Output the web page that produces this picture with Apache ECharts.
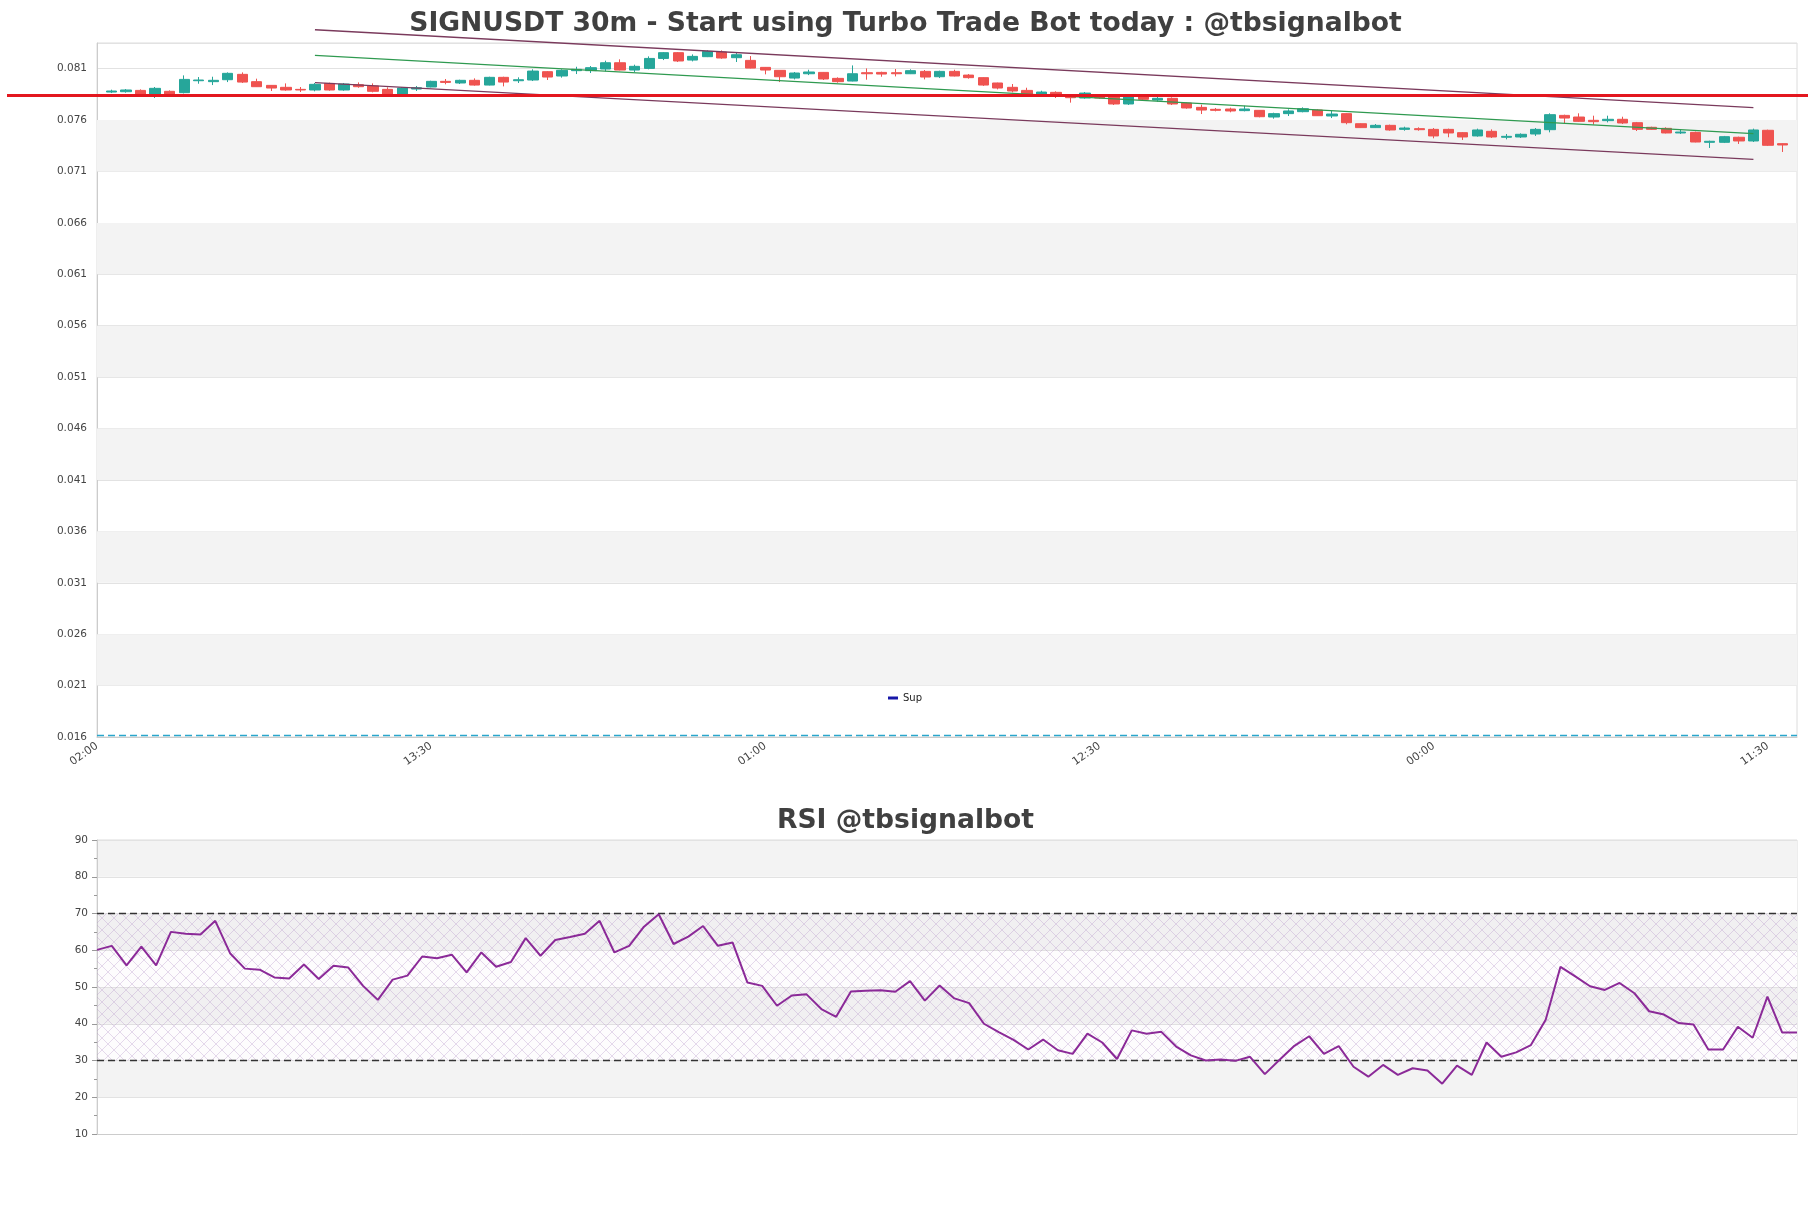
<!DOCTYPE html>
<html><head><meta charset="utf-8">
<script src="https://cdn.jsdelivr.net/npm/echarts@6/dist/echarts.min.js"></script>
<style>html,body{margin:0;padding:0;background:#fff}#c{width:1811px;height:1208px}</style>
</head><body><div id="c"></div>
<script>
// ---- data ----
const startTime = '02:00';
const stepMinutes = 30;
const categoryCount = 118;           // candles occupy categories 1..116
const firstCandleIndex = 1;

const opens = [0.07873,0.07876,0.07889,0.07841,0.07880,0.07867,0.07983,0.07974,0.07993,0.08045,
0.07974,0.07938,0.07919,0.07899,0.07893,0.07957,0.07893,0.07944,0.07932,0.07899,
0.07854,0.07902,0.07922,0.07977,0.07961,0.07987,0.07941,0.08016,0.07983,0.07990,
0.08071,0.08029,0.08081,0.08081,0.08097,0.08158,0.08087,0.08103,0.08200,0.08256,
0.08184,0.08217,0.08262,0.08207,0.08181,0.08113,0.08084,0.08009,0.08051,0.08064,
0.08006,0.07980,0.08061,0.08064,0.08061,0.08051,0.08074,0.08022,0.08074,0.08038,
0.08013,0.07961,0.07919,0.07889,0.07847,0.07870,0.07847,0.07815,0.07841,0.07828,
0.07757,0.07841,0.07795,0.07812,0.07766,0.07724,0.07705,0.07708,0.07692,0.07695,
0.07630,0.07663,0.07682,0.07698,0.07640,0.07663,0.07565,0.07527,0.07549,0.07510,
0.07517,0.07510,0.07510,0.07478,0.07446,0.07491,0.07433,0.07436,0.07465,0.07507,
0.07646,0.07630,0.07598,0.07595,0.07608,0.07575,0.07530,0.07520,0.07475,0.07481,
0.07384,0.07384,0.07433,0.07397,0.07501,0.07371];
const closes = [0.07883,0.07893,0.07841,0.07909,0.07847,0.07996,0.07990,0.07987,0.08055,0.07970,
0.07925,0.07912,0.07893,0.07893,0.07948,0.07893,0.07951,0.07925,0.07880,0.07841,
0.07912,0.07915,0.07977,0.07967,0.07987,0.07941,0.08016,0.07970,0.07993,0.08077,
0.08019,0.08084,0.08094,0.08110,0.08158,0.08087,0.08123,0.08200,0.08256,0.08175,
0.08220,0.08268,0.08204,0.08236,0.08106,0.08087,0.08022,0.08058,0.08068,0.08000,
0.07974,0.08051,0.08051,0.08048,0.08051,0.08081,0.08019,0.08074,0.08029,0.08013,
0.07941,0.07912,0.07883,0.07844,0.07873,0.07834,0.07818,0.07863,0.07815,0.07757,
0.07828,0.07802,0.07812,0.07757,0.07718,0.07698,0.07695,0.07689,0.07708,0.07633,
0.07663,0.07689,0.07711,0.07643,0.07659,0.07575,0.07527,0.07549,0.07504,0.07523,
0.07507,0.07446,0.07475,0.07436,0.07504,0.07436,0.07442,0.07462,0.07510,0.07653,
0.07620,0.07588,0.07585,0.07608,0.07572,0.07510,0.07510,0.07475,0.07484,0.07387,
0.07394,0.07439,0.07397,0.07504,0.07355,0.07358];
const lows = [0.07863,0.07867,0.07841,0.07815,0.07841,0.07860,0.07954,0.07941,0.07970,0.07961,
0.07922,0.07883,0.07886,0.07873,0.07880,0.07886,0.07886,0.07915,0.07870,0.07834,
0.07828,0.07883,0.07919,0.07948,0.07951,0.07935,0.07938,0.07928,0.07961,0.07980,
0.07990,0.08013,0.08048,0.08058,0.08074,0.08084,0.08068,0.08094,0.08184,0.08165,
0.08171,0.08213,0.08197,0.08165,0.08103,0.08045,0.07970,0.07996,0.08038,0.07990,
0.07964,0.07977,0.07993,0.08022,0.08025,0.08048,0.07996,0.08009,0.08025,0.08003,
0.07932,0.07899,0.07870,0.07834,0.07844,0.07815,0.07770,0.07808,0.07808,0.07747,
0.07747,0.07789,0.07779,0.07747,0.07711,0.07659,0.07685,0.07676,0.07685,0.07627,
0.07614,0.07640,0.07676,0.07640,0.07620,0.07559,0.07523,0.07523,0.07497,0.07497,
0.07497,0.07423,0.07433,0.07407,0.07439,0.07426,0.07413,0.07426,0.07446,0.07481,
0.07569,0.07582,0.07556,0.07578,0.07562,0.07494,0.07504,0.07471,0.07465,0.07384,
0.07329,0.07377,0.07368,0.07387,0.07348,0.07290];
const highs = [0.07896,0.07902,0.07899,0.07922,0.07889,0.08035,0.08019,0.08022,0.08064,0.08064,
0.08003,0.07941,0.07957,0.07922,0.07961,0.07964,0.07961,0.07967,0.07957,0.07919,
0.07922,0.07932,0.07983,0.08000,0.07993,0.08006,0.08022,0.08022,0.08016,0.08094,
0.08077,0.08094,0.08119,0.08126,0.08178,0.08191,0.08139,0.08220,0.08262,0.08262,
0.08239,0.08278,0.08278,0.08256,0.08223,0.08116,0.08084,0.08068,0.08090,0.08068,
0.08016,0.08132,0.08103,0.08071,0.08097,0.08094,0.08087,0.08081,0.08090,0.08048,
0.08016,0.07964,0.07951,0.07915,0.07886,0.07880,0.07851,0.07873,0.07847,0.07834,
0.07841,0.07847,0.07831,0.07821,0.07770,0.07750,0.07718,0.07721,0.07740,0.07698,
0.07672,0.07705,0.07724,0.07705,0.07689,0.07669,0.07569,0.07562,0.07556,0.07536,
0.07530,0.07523,0.07517,0.07484,0.07517,0.07510,0.07465,0.07471,0.07523,0.07666,
0.07653,0.07666,0.07643,0.07643,0.07633,0.07582,0.07536,0.07530,0.07510,0.07488,
0.07400,0.07446,0.07439,0.07517,0.07507,0.07374];

const rsiValues = [60.1,61.2,55.9,61.0,55.9,65.0,64.5,64.3,68.0,59.2,
55.0,54.7,52.6,52.3,56.1,52.2,55.8,55.3,50.3,46.5,
52.0,53.1,58.3,57.8,58.8,54.0,59.4,55.5,56.8,63.3,
58.5,62.8,63.6,64.5,68.0,59.4,61.2,66.4,69.8,61.7,
63.7,66.6,61.2,62.1,51.2,50.3,44.9,47.7,48.0,44.0,
41.9,48.8,49.0,49.1,48.7,51.6,46.3,50.4,46.9,45.6,
40.0,37.7,35.6,33.0,35.7,32.8,31.8,37.3,34.9,30.4,
38.2,37.3,37.8,33.8,31.4,30.0,30.3,29.9,31.0,26.3,
30.2,34.0,36.6,31.8,33.9,28.3,25.6,28.8,26.1,27.9,
27.3,23.7,28.6,26.1,34.9,31.0,32.2,34.2,41.1,55.5,
52.9,50.2,49.2,51.1,48.3,43.4,42.5,40.2,39.8,33.0,
33.0,39.2,36.2,47.4,37.6,37.6];

const trendUpper = [[15, 0.08479], [114, 0.07721]];
const trendMid   = [[15, 0.08230], [114, 0.07468]];
const trendLower = [[15, 0.07964], [114, 0.07219]];
const redLevel = 0.0784;
const supLevel = 0.01615;
const rsiBands = [30, 70];
const yMin = 0.016, yMax = 0.0835, yStep = 0.005;
const shadedBandStarts = [0.021, 0.031, 0.041, 0.051, 0.061, 0.071];  // alternate grey stripes

// ---- build ----
function buildCategories() {
  const [h, m] = startTime.split(':').map(Number);
  const out = [];
  for (let i = 0; i < categoryCount; i++) {
    const t = (h * 60 + m + i * stepMinutes) % 1440;
    out.push(String(Math.floor(t / 60)).padStart(2, '0') + ':' + String(t % 60).padStart(2, '0'));
  }
  return out;
}
const categories = buildCategories();
const candleRows = opens.map((o, i) => [i + firstCandleIndex, o, closes[i], lows[i], highs[i]]);
const rsiCategories = categories.slice(firstCandleIndex, firstCandleIndex + rsiValues.length);

function hatch() {
  const s = 12;
  const c = document.createElement('canvas');
  c.width = s; c.height = s;
  const g = c.getContext('2d');
  g.fillStyle = 'rgba(210,190,220,0.05)';
  g.fillRect(0, 0, s, s);
  g.strokeStyle = 'rgba(175,140,195,0.32)';
  g.lineWidth = 1;
  g.beginPath();
  g.moveTo(0, 0); g.lineTo(s, s);
  g.moveTo(s, 0); g.lineTo(0, s);
  g.stroke();
  return c;
}

const FONT = 'DejaVu Sans';
const chart = echarts.init(document.getElementById('c'), null, {renderer: 'canvas'});
chart.setOption({
  animation: false,
  backgroundColor: '#ffffff',
  textStyle: {fontFamily: FONT},
  title: [
    {text: 'SIGNUSDT 30m - Start using Turbo Trade Bot today : @tbsignalbot', left: 'center', top: 6,
     textStyle: {fontSize: 26.6, fontWeight: 'bold', color: '#404040', fontFamily: FONT}},
    {text: 'RSI @tbsignalbot', left: 'center', top: 803,
     textStyle: {fontSize: 26.6, fontWeight: 'bold', color: '#404040', fontFamily: FONT}}
  ],
  legend: {
    data: [{name: 'Sup', icon: 'rect', itemStyle: {color: '#1717a8'}}],
    left: 883, top: 688, itemWidth: 10, itemHeight: 3, itemGap: 6,
    textStyle: {fontSize: 10, color: '#222', fontFamily: FONT}
  },
  dataset: [{source: candleRows}],
  grid: [
    {left: 97, right: 14, top: 43, bottom: 471, show: true, borderColor: '#dcdcdc', borderWidth: 1, outerBoundsMode: 'none'},
    {left: 97, right: 14, top: 840, bottom: 74, show: true, borderColor: '#dcdcdc', borderWidth: 1, outerBoundsMode: 'none'},
    {left: 7, right: 3, top: 43, bottom: 471, show: false, outerBoundsMode: 'none'}
  ],
  xAxis: [
    {type: 'category', gridIndex: 0, data: categories, boundaryGap: false,
     axisLine: {show: true, lineStyle: {color: '#cccccc'}}, axisTick: {show: false},
     axisLabel: {interval: 22, rotate: 35, color: '#444', fontSize: 11, fontFamily: FONT, margin: 8},
     splitLine: {show: false}},
    {type: 'category', gridIndex: 1, data: rsiCategories, boundaryGap: false,
     axisLine: {show: true, lineStyle: {color: '#cccccc'}}, axisTick: {show: false},
     axisLabel: {show: false}, splitLine: {show: false}},
    {type: 'value', gridIndex: 2, min: 0, max: 1, show: false}
  ],
  yAxis: [
    {type: 'value', gridIndex: 0, min: yMin, max: yMax, interval: yStep, scale: true,
     axisLine: {show: true, lineStyle: {color: '#cccccc'}}, axisTick: {show: false},
     axisLabel: {color: '#444', fontSize: 10.5, fontFamily: FONT, margin: 10,
                 formatter: v => (v > 0.0815 ? '' : v.toFixed(3))},
     splitLine: {show: true, lineStyle: {color: '#e2e2e2'}},
     splitArea: {show: false}},
    {type: 'value', gridIndex: 1, min: 10, max: 90, interval: 10,
     axisLine: {show: true, lineStyle: {color: '#cccccc'}},
     axisTick: {show: true, length: 5, lineStyle: {color: '#999'}},
     minorTick: {show: true, splitNumber: 2, length: 3, lineStyle: {color: '#999'}},
     axisLabel: {color: '#444', fontSize: 10.5, fontFamily: FONT, margin: 9},
     splitLine: {show: true, lineStyle: {color: '#e2e2e2'}},
     splitArea: {show: true, areaStyle: {color: ['#ffffff', '#f3f3f3']}}},
    {type: 'value', gridIndex: 2, min: yMin, max: yMax, show: false}
  ],
  series: [
    {type: 'line', name: 'bands', xAxisIndex: 0, yAxisIndex: 0, data: [[0, supLevel]], symbol: 'none',
     lineStyle: {opacity: 0}, silent: true, z: 0,
     markArea: {silent: true, itemStyle: {color: '#f3f3f3'},
                data: shadedBandStarts.map(b => [{yAxis: b}, {yAxis: +(b + yStep).toFixed(3)}])}},
    {type: 'candlestick', name: 'SIGNUSDT', xAxisIndex: 0, yAxisIndex: 0, datasetIndex: 0,
     encode: {x: 0, y: [1, 2, 3, 4]}, barWidth: '74%', z: 2,
     itemStyle: {color: '#26a69a', color0: '#ef5350', borderColor: '#26a69a', borderColor0: '#ef5350', borderWidth: 1}},
    {type: 'line', name: 'Sup', xAxisIndex: 0, yAxisIndex: 0, data: [[0, supLevel], [categoryCount - 1, supLevel]],
     symbol: 'none', itemStyle: {color: '#1717a8'}, lineStyle: {color: '#2aa6cc', width: 1.6, type: [7, 4]}, z: 3},
    {type: 'line', name: 'upper', xAxisIndex: 0, yAxisIndex: 0, data: trendUpper, clip: false, symbol: 'none', silent: true,
     lineStyle: {color: '#7a3a5c', width: 1.3}, z: 4},
    {type: 'line', name: 'mid', xAxisIndex: 0, yAxisIndex: 0, data: trendMid, clip: false, symbol: 'none', silent: true,
     lineStyle: {color: '#2f9a50', width: 1.3}, z: 4},
    {type: 'line', name: 'lower', xAxisIndex: 0, yAxisIndex: 0, data: trendLower, clip: false, symbol: 'none', silent: true,
     lineStyle: {color: '#7a3a5c', width: 1.3}, z: 4},
    {type: 'line', name: 'level', xAxisIndex: 2, yAxisIndex: 2, data: [[0, redLevel], [1, redLevel]], symbol: 'none', silent: true,
     lineStyle: {color: '#e3171f', width: 3}, z: 5},
    {type: 'line', name: 'RSI', xAxisIndex: 1, yAxisIndex: 1, data: rsiValues, symbol: 'none',
     lineStyle: {color: '#8b2a98', width: 2}, itemStyle: {color: '#8b2a98'}, z: 5,
     markLine: {silent: true, symbol: 'none', label: {show: false},
                lineStyle: {color: '#333', width: 1.3, type: [7, 4]},
                data: rsiBands.map(v => ({yAxis: v}))},
     markArea: {silent: true, itemStyle: {color: {image: hatch(), repeat: 'repeat'}},
                data: [[{yAxis: rsiBands[0]}, {yAxis: rsiBands[1]}]]}}
  ]
});
</script></body></html>
